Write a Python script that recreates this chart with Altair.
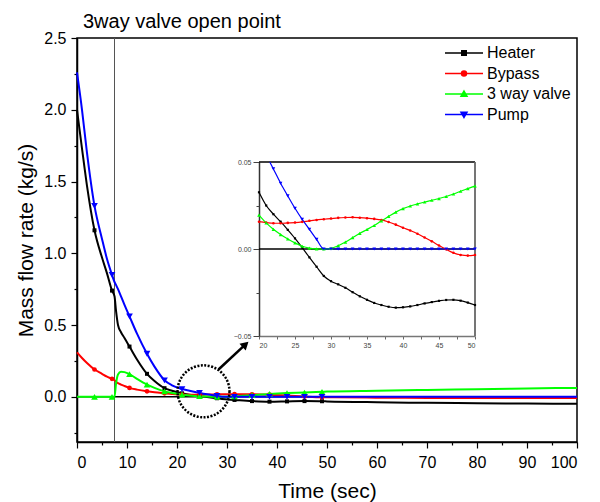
import altair as alt
import pandas as pd

FONT = "Liberation Sans, Arial, sans-serif"

SERIES = ["Heater", "Bypass", "3 way valve", "Pump"]
COLORS = ["#000000", "#ff0000", "#00ff00", "#0000ff"]
SHAPES = ["square", "circle", "triangle-up", "triangle-down"]
MARK_SIZES = [16, 22, 45, 45]

# ---- main plot (0-100 s) ----
T_MAIN = [0, 1, 2, 3.5, 5, 6, 7, 7.5, 7.8, 8.2, 8.8, 9.5, 10.5, 12, 14, 15.5, 17.5, 19,
          21, 22.5, 24.5, 26, 28, 29, 31.5, 35, 38.5, 42, 45.5, 49, 50, 60, 70, 80, 90, 100]
HEATER = [2.0, 1.73, 1.47, 1.16, 0.97, 0.86, 0.74, 0.70, 0.60, 0.50, 0.45, 0.41,
          0.35, 0.26, 0.16, 0.11, 0.06, 0.042, 0.024, 0.014, 0.004, -0.001, -0.010, -0.016,
          -0.022, -0.030, -0.034, -0.032, -0.030, -0.031, -0.032, -0.038, -0.042, -0.045, -0.047, -0.048]
BYPASS = [0.31, 0.27, 0.235, 0.19, 0.16, 0.14, 0.125, 0.115, 0.105, 0.095, 0.085, 0.075,
          0.062, 0.05, 0.038, 0.031, 0.024, 0.019, 0.015, 0.0148, 0.015, 0.0156, 0.0167, 0.0171,
          0.018, 0.0177, 0.0148, 0.0088, 0.0012, -0.0038, -0.0035, -0.006, -0.008, -0.009, -0.009, -0.009]
VALVE = [0, 0, 0, 0, 0, 0, 0, 0, 0.09, 0.155, 0.175, 0.172,
         0.158, 0.125, 0.085, 0.062, 0.038, 0.026, 0.015, 0.0095, 0.004, 0.0016, 0.0001, 0.0,
         0.0029, 0.0112, 0.020, 0.0259, 0.0296, 0.0347, 0.0362, 0.042, 0.048, 0.053, 0.058, 0.062]
PUMP = [2.26, 2.0, 1.70, 1.33, 1.10, 0.96, 0.85, 0.80, 0.78, 0.75, 0.70, 0.64,
        0.56, 0.44, 0.30, 0.21, 0.115, 0.08, 0.054, 0.042, 0.027, 0.017, 0.0055, 0.0,
        0, 0, 0, 0, 0, 0, 0, 0, 0, 0, 0, 0]
T_MARK = [3.5, 7, 10.5, 14, 17.5, 21, 24.5, 28, 31.5, 35, 38.5, 42, 45.5, 49]

VALVE_OPEN_T = [7.5]
CIRCLE_T, CIRCLE_V = [25.3], [0.038]
ARROW_T, ARROW_V = [28.3, 33.7], [0.19, 0.365]
HEAD_T, HEAD_V = [33.7], [0.365]

X_MAJOR = [0, 10, 20, 30, 40, 50, 60, 70, 80, 90, 100]
X_MINOR = [5, 15, 25, 35, 45, 55, 65, 75, 85, 95]
Y_MAJOR = [0.0, 0.5, 1.0, 1.5, 2.0, 2.5]
Y_MINOR = [-0.25, 0.25, 0.75, 1.25, 1.75, 2.25]
Y_DOMAIN = [-0.315, 2.5]

# ---- inset (20-50 s) ----
T_INSET = list(range(20, 51))
HEATER_IN = [0.0326, 0.025, 0.020, 0.0157, 0.011, 0.0061, 0.0008, -0.0048, -0.0102, -0.0155,
             -0.0185, -0.0203, -0.0223, -0.0248, -0.0272, -0.0292, -0.0310, -0.0322, -0.0332, -0.0337,
             -0.0335, -0.0330, -0.0322, -0.0313, -0.0305, -0.0298, -0.0293, -0.0292, -0.0297, -0.0308, -0.0322]
BYPASS_IN = [0.0157, 0.0152, 0.0148, 0.0148, 0.0150, 0.0152, 0.0156, 0.0162, 0.0167, 0.0171,
             0.0175, 0.0179, 0.0181, 0.0182, 0.0180, 0.0177, 0.0173, 0.0167, 0.0155, 0.0140,
             0.0122, 0.0106, 0.0088, 0.0066, 0.0044, 0.0020, -0.0002, -0.0022, -0.0034, -0.0038, -0.0035]
VALVE_IN = [0.0195, 0.0150, 0.0113, 0.0083, 0.0058, 0.0035, 0.0016, 0.0005, 0.0001, 0.0,
            0.0004, 0.0019, 0.0040, 0.0065, 0.0090, 0.0112, 0.0135, 0.0162, 0.0187, 0.0212,
            0.0232, 0.0247, 0.0259, 0.0270, 0.0280, 0.0290, 0.0302, 0.0316, 0.0332, 0.0347, 0.0362]
T_PUMP_IN = [21.5] + list(range(22, 51))
PUMP_IN = [0.050, 0.046, 0.0378, 0.0305, 0.0234, 0.0170, 0.0113, 0.0055, 0.0,
           0, 0, 0, 0, 0, 0, 0, 0, 0, 0, 0, 0, 0, 0, 0, 0, 0, 0, 0, 0, 0]
IX_TICKS = [20, 22.5, 25, 27.5, 30, 32.5, 35, 37.5, 40, 42.5, 45, 47.5, 50]
IY_MAJOR = [-0.05, 0, 0.05]
IY_MINOR = [-0.025, 0.025]

rows = []
for name, vals in zip(SERIES, [HEATER, BYPASS, VALVE, PUMP]):
    for t, v in zip(T_MAIN, vals):
        rows.append({"time": t, "value": v, "series": name, "marker": t in T_MARK})
main_df = pd.DataFrame(rows)

rows = []
for name, times, vals in zip(SERIES, [T_INSET, T_INSET, T_INSET, T_PUMP_IN],
                             [HEATER_IN, BYPASS_IN, VALVE_IN, PUMP_IN]):
    for t, v in zip(times, vals):
        rows.append({"time": t, "value": v, "series": name, "marker": float(t).is_integer()})
inset_df = pd.DataFrame(rows)

cs = alt.Scale(domain=SERIES, range=COLORS)

# legend symbols: line segment + marker (custom paths)
LINE = "M-3.8,0H3.8"
LEGEND_PATHS = [
    LINE + "M-0.45,-0.45H0.45V0.45H-0.45Z",
    LINE + "M0.5,0A0.5,0.5,0,1,1,-0.5,0A0.5,0.5,0,1,1,0.5,0Z",
    LINE + "M0,-0.6L0.6,0.45L-0.6,0.45Z",
    LINE + "M0,0.6L0.6,-0.45L-0.6,-0.45Z",
]

legend = alt.Legend(
    title=None, orient="none", legendX=379, legendY=7, padding=0,
    symbolSize=100, symbolStrokeWidth=1.5, labelOffset=15, rowPadding=4.5,
    labelFont=FONT, labelFontSize=16, labelColor="black",
)

xs = alt.Scale(domain=[0, 100], nice=False, zero=False)
ys = alt.Scale(domain=Y_DOMAIN, nice=False, zero=False)

common_axis = dict(tickWidth=1.2, tickColor="black", domainColor="black", domainWidth=1.5,
                   labelFontSize=16, titleFontSize=21, labelColor="black",
                   titleColor="black", titleFontWeight="normal", labelFont=FONT, titleFont=FONT,
                   labelOverlap=False, grid=False)
x_axis = alt.Axis(orient="bottom", title="Time (sec)", values=X_MAJOR, tickSize=6,
                  labelPadding=6, titlePadding=10, **common_axis)
y_axis = alt.Axis(orient="left", title="Mass flow rate (kg/s)", values=Y_MAJOR, format=".1f",
                  tickSize=6, labelPadding=5, titlePadding=7, **common_axis)

zero_line = alt.Chart(pd.DataFrame({"value": [0]})).mark_rule(color="black", strokeWidth=1.5).encode(
    y=alt.Y("value:Q", scale=ys, axis=y_axis))
vline = alt.Chart(pd.DataFrame({"time": VALVE_OPEN_T})).mark_rule(color="#555555", strokeWidth=1).encode(
    x=alt.X("time:Q", scale=xs, axis=x_axis))
lines = alt.Chart(main_df).mark_line(strokeWidth=2, interpolate="monotone").encode(
    x=alt.X("time:Q", scale=xs),
    y=alt.Y("value:Q", scale=ys),
    color=alt.Color("series:N", scale=cs, sort=SERIES, legend=legend),
    order=alt.Order("time:Q"),
)


def marker_layers(df, scx, scy, scale_factor):
    out = []
    for name, shape, sz in zip(SERIES, SHAPES, MARK_SIZES):
        out.append(alt.Chart(df).transform_filter(
            f"datum.marker && datum.series === '{name}'").mark_point(
            filled=True, size=sz * scale_factor, opacity=1, shape=shape).encode(
            x=alt.X("time:Q", scale=scx), y=alt.Y("value:Q", scale=scy),
            color=alt.Color("series:N", scale=cs, legend=None)))
    return out


points = marker_layers(main_df, xs, ys, 1.0)

# no marks drawn (empty after filter); gives the legend its line+marker symbols
legend_src = alt.Chart(main_df).transform_filter("false").mark_point(
    filled=True, strokeWidth=1.5, opacity=1).encode(
    x=alt.X("time:Q", scale=xs), y=alt.Y("value:Q", scale=ys),
    fill=alt.Fill("series:N", scale=alt.Scale(domain=SERIES, range=COLORS), legend=legend),
    stroke=alt.Stroke("series:N", scale=alt.Scale(domain=SERIES, range=COLORS), legend=legend),
    shape=alt.Shape("series:N", scale=alt.Scale(domain=SERIES, range=LEGEND_PATHS), legend=legend),
)

circle = alt.Chart(pd.DataFrame({"time": CIRCLE_T, "value": CIRCLE_V})).mark_point(
    shape="circle", size=2704, filled=False, color="black", strokeWidth=2.5,
    strokeDash=[2, 1.5], opacity=1).encode(
    x=alt.X("time:Q", scale=xs), y=alt.Y("value:Q", scale=ys))
arrow = alt.Chart(pd.DataFrame({"time": ARROW_T[:1], "value": ARROW_V[:1],
                                "time2": ARROW_T[1:], "value2": ARROW_V[1:]})).mark_rule(
    color="black", strokeWidth=2.5).encode(
    x=alt.X("time:Q", scale=xs), y=alt.Y("value:Q", scale=ys), x2="time2:Q", y2="value2:Q")
head = alt.Chart(pd.DataFrame({"time": HEAD_T, "value": HEAD_V})).mark_point(
    shape="triangle-up", angle=47, size=85, filled=True, color="black", opacity=1).encode(
    x=alt.X("time:Q", scale=xs), y=alt.Y("value:Q", scale=ys))

main = alt.layer(zero_line, vline, lines, *points, circle, arrow, head, legend_src)

# minor ticks of the main axes
minor_axis = dict(tickSize=3, tickWidth=1.2, tickColor="black", domain=False, labels=False,
                  title=None, grid=False)
minor = alt.Chart(pd.DataFrame({"time": [0], "value": [0]})).mark_point(size=0, opacity=0).encode(
    x=alt.X("time:Q", scale=alt.Scale(domain=[0, 100], nice=False, zero=False),
            axis=alt.Axis(orient="bottom", values=X_MINOR, **minor_axis)),
    y=alt.Y("value:Q", scale=alt.Scale(domain=Y_DOMAIN, nice=False, zero=False),
            axis=alt.Axis(orient="left", values=Y_MINOR, **minor_axis)),
)

# ---- inset ----
ixs = alt.Scale(domain=[20, 50], range=[182, 398], nice=False, zero=False)
iys = alt.Scale(domain=[-0.05, 0.05], range=[298, 124], nice=False, zero=False)

ix_axis = alt.Axis(
    orient="bottom", offset=-106, title=None, values=IX_TICKS,
    labelExpr="datum.value % 5 === 0 ? datum.label : ''", labelOverlap=False,
    tickSize=3, tickColor="#666666", tickWidth=1, domainColor="#777777", domainWidth=1.5,
    labelFontSize=7, labelColor="#444444", labelPadding=2, labelFont=FONT, grid=False,
)
iy_axis = alt.Axis(
    orient="left", offset=-182, title=None, values=IY_MAJOR, format=".2f",
    labelOverlap=False, tickSize=6, tickColor="#444444", tickWidth=1,
    domainColor="#333333", domainWidth=1.5, labelFontSize=7, labelColor="#444444",
    labelPadding=2, labelFont=FONT, grid=False,
)

inset_zero = alt.Chart(pd.DataFrame({"time": [20], "time2": [50], "value": [0]})).mark_rule(
    color="black", strokeWidth=1.3).encode(
    x=alt.X("time:Q", scale=ixs, axis=ix_axis), x2="time2:Q",
    y=alt.Y("value:Q", scale=iys, axis=iy_axis))
inset_top = alt.Chart(pd.DataFrame({"time": [20], "time2": [50], "value": [0.05]})).mark_rule(
    color="black", strokeWidth=1.3).encode(
    x=alt.X("time:Q", scale=ixs), x2="time2:Q", y=alt.Y("value:Q", scale=iys))
inset_right = alt.Chart(pd.DataFrame({"time": [50], "value": [-0.05], "value2": [0.05]})).mark_rule(
    color="#666666", strokeWidth=1.8).encode(
    x=alt.X("time:Q", scale=ixs), y=alt.Y("value:Q", scale=iys), y2="value2:Q")
inset_lines = alt.Chart(inset_df).mark_line(strokeWidth=1.2, interpolate="monotone").encode(
    x=alt.X("time:Q", scale=ixs), y=alt.Y("value:Q", scale=iys),
    color=alt.Color("series:N", scale=cs, legend=None), order=alt.Order("time:Q"))
inset_points = marker_layers(inset_df, ixs, iys, 0.3)

inset = alt.layer(inset_zero, inset_top, inset_right, inset_lines, *inset_points)

inset_minor = alt.Chart(pd.DataFrame({"value": [0]})).mark_rule(opacity=0).encode(
    y=alt.Y("value:Q", scale=alt.Scale(domain=[-0.05, 0.05], range=[298, 124], nice=False, zero=False),
            axis=alt.Axis(orient="left", offset=-182, values=IY_MINOR, tickSize=3, tickWidth=1,
                          tickColor="#444444", domain=False, labels=False, title=None, grid=False)))

chart = alt.layer(main, minor, inset, inset_minor).resolve_scale(
    x="independent", y="independent").properties(
    width=500, height=404,
    autosize=alt.AutoSizeParams(type="none"),
    padding={"left": 69, "top": 30, "right": 15, "bottom": 60},
    title=alt.Title("3way valve open point", anchor="start", frame="group", dx=6, offset=-2,
                    fontSize=20, fontWeight="normal", font=FONT, color="black"),
).configure_view(stroke="black", strokeWidth=1.5)

chart.save("out.html", embed_options={"renderer": "svg", "actions": False})
